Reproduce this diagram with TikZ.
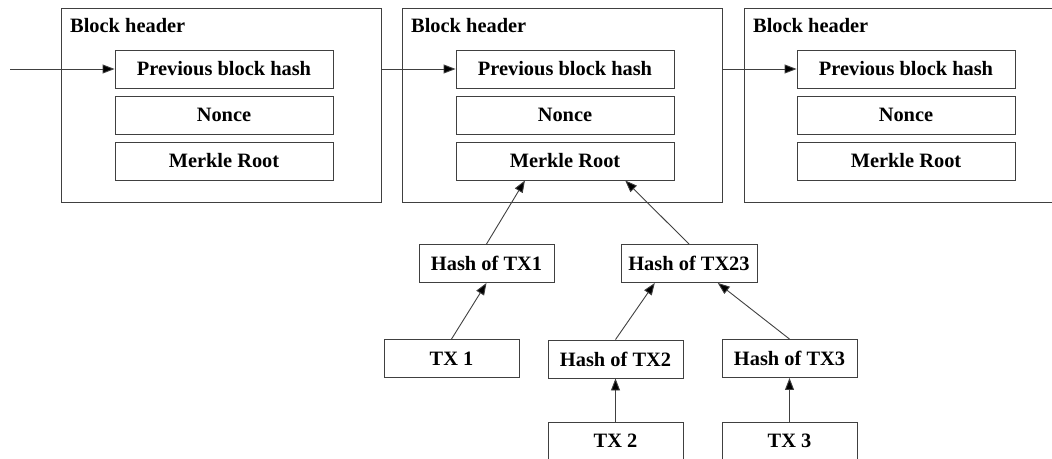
\documentclass[tikz,border=0pt]{standalone}
\usepackage{fontspec}
\setmainfont{Liberation Serif}
\usetikzlibrary{arrows.meta,calc}
\tikzset{
  fld/.style={draw=black!75, line width=0.9pt, minimum width=218pt, minimum height=38pt, inner sep=0pt, font=\fontsize{20.4}{24}\selectfont\bfseries},
  blk/.style={draw=black!75, line width=0.9pt, minimum width=320pt, minimum height=194pt, inner sep=0pt},
  leaf/.style={draw=black!75, line width=0.9pt, minimum width=135pt, minimum height=38pt, inner sep=0pt, font=\fontsize{20.4}{24}\selectfont\bfseries},
  hdr/.style={anchor=base west, inner sep=0pt, font=\fontsize{20.4}{24}\selectfont\bfseries},
  arr/.style={draw=black!75, line width=0.9pt, -{Triangle[length=12pt,width=9pt,fill=black]}}
}
\begin{document}
\begin{tikzpicture}[x=1pt,y=-1pt]
\useasboundingbox (0,0) rectangle (1052,458);
\clip (0,0) rectangle (1052,458);
% blocks
\node[blk] (b1) at (221.5,105) {};
\node[blk] (b2) at (562,105) {};
\node[blk] (b3) at (904,105) {};
\node[hdr] (l1) at (70,32) {Block header};
\node[hdr] (l2) at (411,32) {Block header};
\node[hdr] (l3) at (753,32) {Block header};
% fields
\node[fld] (p1) at (224,69) {Previous block hash};
\node[fld] (n1) at (224,115) {Nonce};
\node[fld] (m1) at (224,161) {Merkle Root};
\node[fld] (p2) at (565,69) {Previous block hash};
\node[fld] (n2) at (565,115) {Nonce};
\node[fld] (m2) at (565,161) {Merkle Root};
\node[fld] (p3) at (906,69) {Previous block hash};
\node[fld] (n3) at (906,115) {Nonce};
\node[fld] (m3) at (906,161) {Merkle Root};
% merkle tree
\node[leaf] (h1) at (486.5,263.5) {Hash of TX1};
\node[leaf, minimum width=136pt] (h23) at (689,263.5) {Hash of TX23};
\node[leaf] (t1) at (451.5,358.5) {TX 1};
\node[leaf] (h2) at (615.5,359) {Hash of TX2};
\node[leaf] (h3) at (789.5,358.5) {Hash of TX3};
\node[leaf] (t2) at (615.5,441) {TX 2};
\node[leaf] (t3) at (789.5,441) {TX 3};
% chain arrows
\coordinate (in) at (10,69);
\draw[arr] (in) -- (p1.west);
\draw[arr] (b1.east |- p2.west) -- (p2.west);
\draw[arr] (b2.east |- p3.west) -- (p3.west);
% tree arrows
\draw[arr] (h1.north) -- ($(m2.south west)!0.317!(m2.south east)$);
\draw[arr] (h23.north) -- ($(m2.south west)!0.775!(m2.south east)$);
\draw[arr] (t1.north) -- (h1.south);
\draw[arr] (h2.north) -- ($(h23.south west)!0.25!(h23.south east)$);
\draw[arr] (h3.north) -- ($(h23.south west)!0.71!(h23.south east)$);
\draw[arr] (t2.north) -- (h2.south);
\draw[arr] (t3.north) -- (h3.south);
\end{tikzpicture}
\end{document}
